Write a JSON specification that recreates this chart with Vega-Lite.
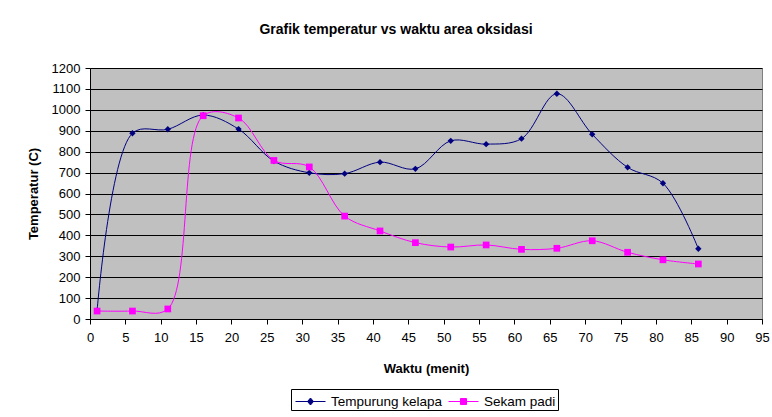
{
  "$schema": "https://vega.github.io/schema/vega-lite/v6.json",
  "autosize": {"type": "none"},
  "width": 672,
  "height": 251,
  "padding": {"left": 90, "top": 68, "right": 10, "bottom": 98},
  "background": "white",
  "title": {
    "text": "Grafik temperatur vs waktu area oksidasi",
    "font": "Liberation Sans",
    "fontSize": 14,
    "fontWeight": "bold",
    "color": "black",
    "anchor": "middle",
    "dx": -30,
    "offset": 25
  },
  "config": {
    "font": "Liberation Sans",
    "view": {"fill": "#C0C0C0", "stroke": "#808080", "strokeWidth": 1}
  },
  "data": {
    "values": [
      {"t": 1, "s": "Tempurung kelapa", "v": 40},
      {"t": 6, "s": "Tempurung kelapa", "v": 888},
      {"t": 11, "s": "Tempurung kelapa", "v": 907},
      {"t": 16, "s": "Tempurung kelapa", "v": 975},
      {"t": 21, "s": "Tempurung kelapa", "v": 908},
      {"t": 26, "s": "Tempurung kelapa", "v": 755},
      {"t": 31, "s": "Tempurung kelapa", "v": 699},
      {"t": 36, "s": "Tempurung kelapa", "v": 695},
      {"t": 41, "s": "Tempurung kelapa", "v": 750},
      {"t": 46, "s": "Tempurung kelapa", "v": 718},
      {"t": 51, "s": "Tempurung kelapa", "v": 852},
      {"t": 56, "s": "Tempurung kelapa", "v": 836},
      {"t": 61, "s": "Tempurung kelapa", "v": 862},
      {"t": 66, "s": "Tempurung kelapa", "v": 1077},
      {"t": 71, "s": "Tempurung kelapa", "v": 883},
      {"t": 76, "s": "Tempurung kelapa", "v": 725},
      {"t": 81, "s": "Tempurung kelapa", "v": 649},
      {"t": 86, "s": "Tempurung kelapa", "v": 336},
      {"t": 1, "s": "Sekam padi", "v": 38},
      {"t": 6, "s": "Sekam padi", "v": 38},
      {"t": 11, "s": "Sekam padi", "v": 48},
      {"t": 16, "s": "Sekam padi", "v": 972},
      {"t": 21, "s": "Sekam padi", "v": 961},
      {"t": 26, "s": "Sekam padi", "v": 758},
      {"t": 31, "s": "Sekam padi", "v": 727},
      {"t": 36, "s": "Sekam padi", "v": 492},
      {"t": 41, "s": "Sekam padi", "v": 421},
      {"t": 46, "s": "Sekam padi", "v": 365},
      {"t": 51, "s": "Sekam padi", "v": 344},
      {"t": 56, "s": "Sekam padi", "v": 354},
      {"t": 61, "s": "Sekam padi", "v": 333},
      {"t": 66, "s": "Sekam padi", "v": 338},
      {"t": 71, "s": "Sekam padi", "v": 374},
      {"t": 76, "s": "Sekam padi", "v": 319},
      {"t": 81, "s": "Sekam padi", "v": 283},
      {"t": 86, "s": "Sekam padi", "v": 263}
    ]
  },
  "encoding": {
    "x": {
      "field": "t",
      "type": "quantitative",
      "scale": {"domain": [0, 95], "nice": false, "zero": false},
      "axis": {
        "title": "Waktu (menit)",
        "values": [0,5,10,15,20,25,30,35,40,45,50,55,60,65,70,75,80,85,90,95],
        "grid": false,
        "domainColor": "black",
        "tickColor": "black",
        "tickSize": 5,
        "labelFontSize": 13,
        "labelColor": "black",
        "labelPadding": 7,
        "labelFlush": false,
        "titleFontSize": 13,
        "titleFontWeight": "bold",
        "titleColor": "black",
        "titlePadding": 18
      }
    },
    "y": {
      "field": "v",
      "type": "quantitative",
      "scale": {"domain": [0, 1200], "nice": false},
      "axis": {
        "title": "Temperatur (C)",
        "format": "d",
        "values": [0,100,200,300,400,500,600,700,800,900,1000,1100,1200],
        "grid": true,
        "gridColor": "black",
        "gridOpacity": 1,
        "gridWidth": 1,
        "domainColor": "black",
        "tickColor": "black",
        "tickSize": 5,
        "labelFontSize": 13,
        "labelColor": "black",
        "labelPadding": 5,
        "labelFlush": false,
        "titleFontSize": 13,
        "titleFontWeight": "bold",
        "titleColor": "black",
        "titlePadding": 11
      }
    },
    "color": {
      "field": "s",
      "type": "nominal",
      "scale": {"domain": ["Tempurung kelapa", "Sekam padi"], "range": ["#000080", "#FF00FF"]},
      "legend": {
        "title": null,
        "orient": "none",
        "legendX": 201,
        "legendY": 321,
        "direction": "horizontal",
        "strokeColor": "black",
        "padding": 2,
        "fillColor": "white",
        "labelFontSize": 13.5,
        "labelColor": "black",
        "labelOffset": 10,
        "symbolOffset": 7,
        "columnPadding": 3,
        "symbolSize": 400,
        "symbolStrokeWidth": 1,
        "symbolType": "M-1.5,0L1.5,0M-0.3,-0.3L0.3,-0.3L0.3,0.3L-0.3,0.3Z",
        "encode": {
          "symbols": {
            "update": {
              "shape": {"signal": "datum.value === 'Tempurung kelapa' ? 'M-1.5,0L1.5,0M0,-0.35L0.3,0L0,0.35L-0.3,0Z' : 'M-1.5,0L1.5,0M-0.3,-0.3L0.3,-0.3L0.3,0.3L-0.3,0.3Z'"}
            }
          }
        }
      }
    }
  },
  "layer": [
    {
      "mark": {"type": "line", "interpolate": "catmull-rom", "strokeWidth": 1}
    },
    {
      "transform": [{"filter": "datum.s === 'Tempurung kelapa'"}],
      "mark": {"type": "point", "filled": true, "size": 40, "opacity": 1, "shape": "diamond"}
    },
    {
      "transform": [{"filter": "datum.s === 'Sekam padi'"}],
      "mark": {"type": "point", "filled": true, "size": 45, "opacity": 1, "shape": "square"}
    }
  ]
}
